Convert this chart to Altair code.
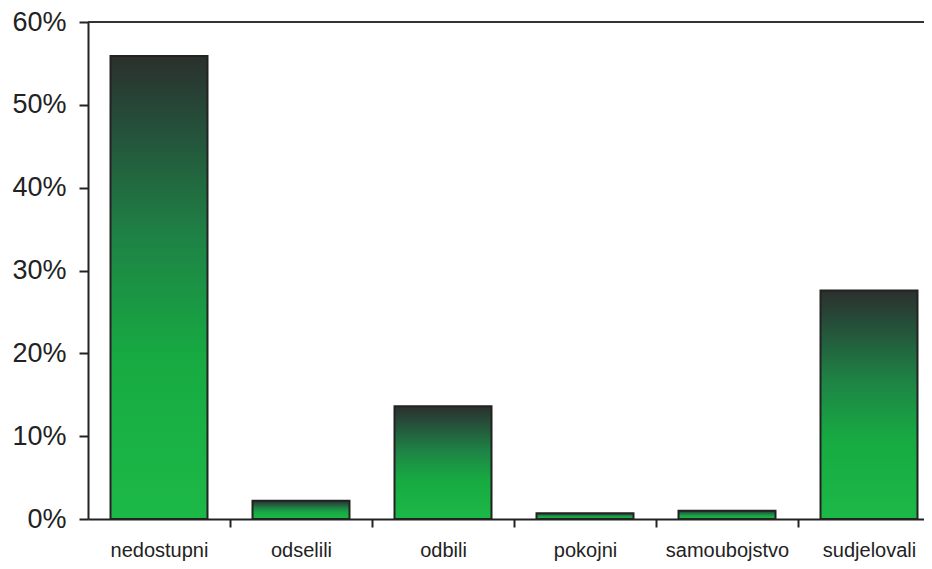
import altair as alt
import pandas as pd

categories = ["nedostupni", "odselili", "odbili", "pokojni", "samoubojstvo", "sudjelovali"]
values = [55.9, 2.2, 13.6, 0.7, 1.0, 27.6]
y_ticks = [0, 10, 20, 30, 40, 50, 60]

df = pd.DataFrame({"cat": categories, "val": values})

FONT = "Liberation Sans"
INK = "#222222"

grad = alt.Gradient(
    gradient="linear",
    x1=0, x2=0, y1=0, y2=1,
    stops=[
        alt.GradientStop(offset=0.0, color="#2b302d"),
        alt.GradientStop(offset=0.15, color="#254f3a"),
        alt.GradientStop(offset=0.4, color="#1e8445"),
        alt.GradientStop(offset=0.65, color="#17aa42"),
        alt.GradientStop(offset=1.0, color="#1cb947"),
    ],
)

STEP = 142
x_enc = alt.X(
    "cat:N",
    sort=categories,
    scale=alt.Scale(range=[0, 6 * STEP], paddingInner=0.317, paddingOuter=0.1585),
    axis=alt.Axis(
        title=None, labelAngle=0, tickOffset=STEP / 2, labelOffset=-STEP / 2,
        tickSize=8, tickWidth=2,
        tickColor=INK, domainColor=INK, domainWidth=2, labelFont=FONT,
        labelFontSize=20, labelColor=INK, labelPadding=13, grid=False,
    ),
)
y_scale = alt.Scale(domain=[0, 60], nice=False)
y_enc = alt.Y(
    "val:Q",
    scale=y_scale,
    axis=alt.Axis(
        title=None, values=y_ticks, labelExpr="datum.value + '%'", tickSize=9,
        tickWidth=2, tickColor=INK, domainColor=INK, domainWidth=2,
        labelFont=FONT, labelFontSize=27, labelColor=INK, labelPadding=13,
        grid=False,
    ),
)

bars = alt.Chart(df).mark_bar(
    color=grad, stroke=INK, strokeWidth=2
).encode(x=x_enc, y=y_enc)

top_rule = alt.Chart(df).mark_rule(color="#333333", strokeWidth=2).encode(
    y=alt.datum(60, scale=y_scale)
)

chart = (
    alt.layer(bars, top_rule)
    .properties(
        width=836,
        height=497,
        autosize=alt.AutoSizeParams(type="none"),
        padding={"left": 80, "top": 14, "right": 0, "bottom": 48},
    )
    .configure_view(stroke=None)
)

chart.save("out.html", embed_options={"renderer": "svg", "actions": False})
